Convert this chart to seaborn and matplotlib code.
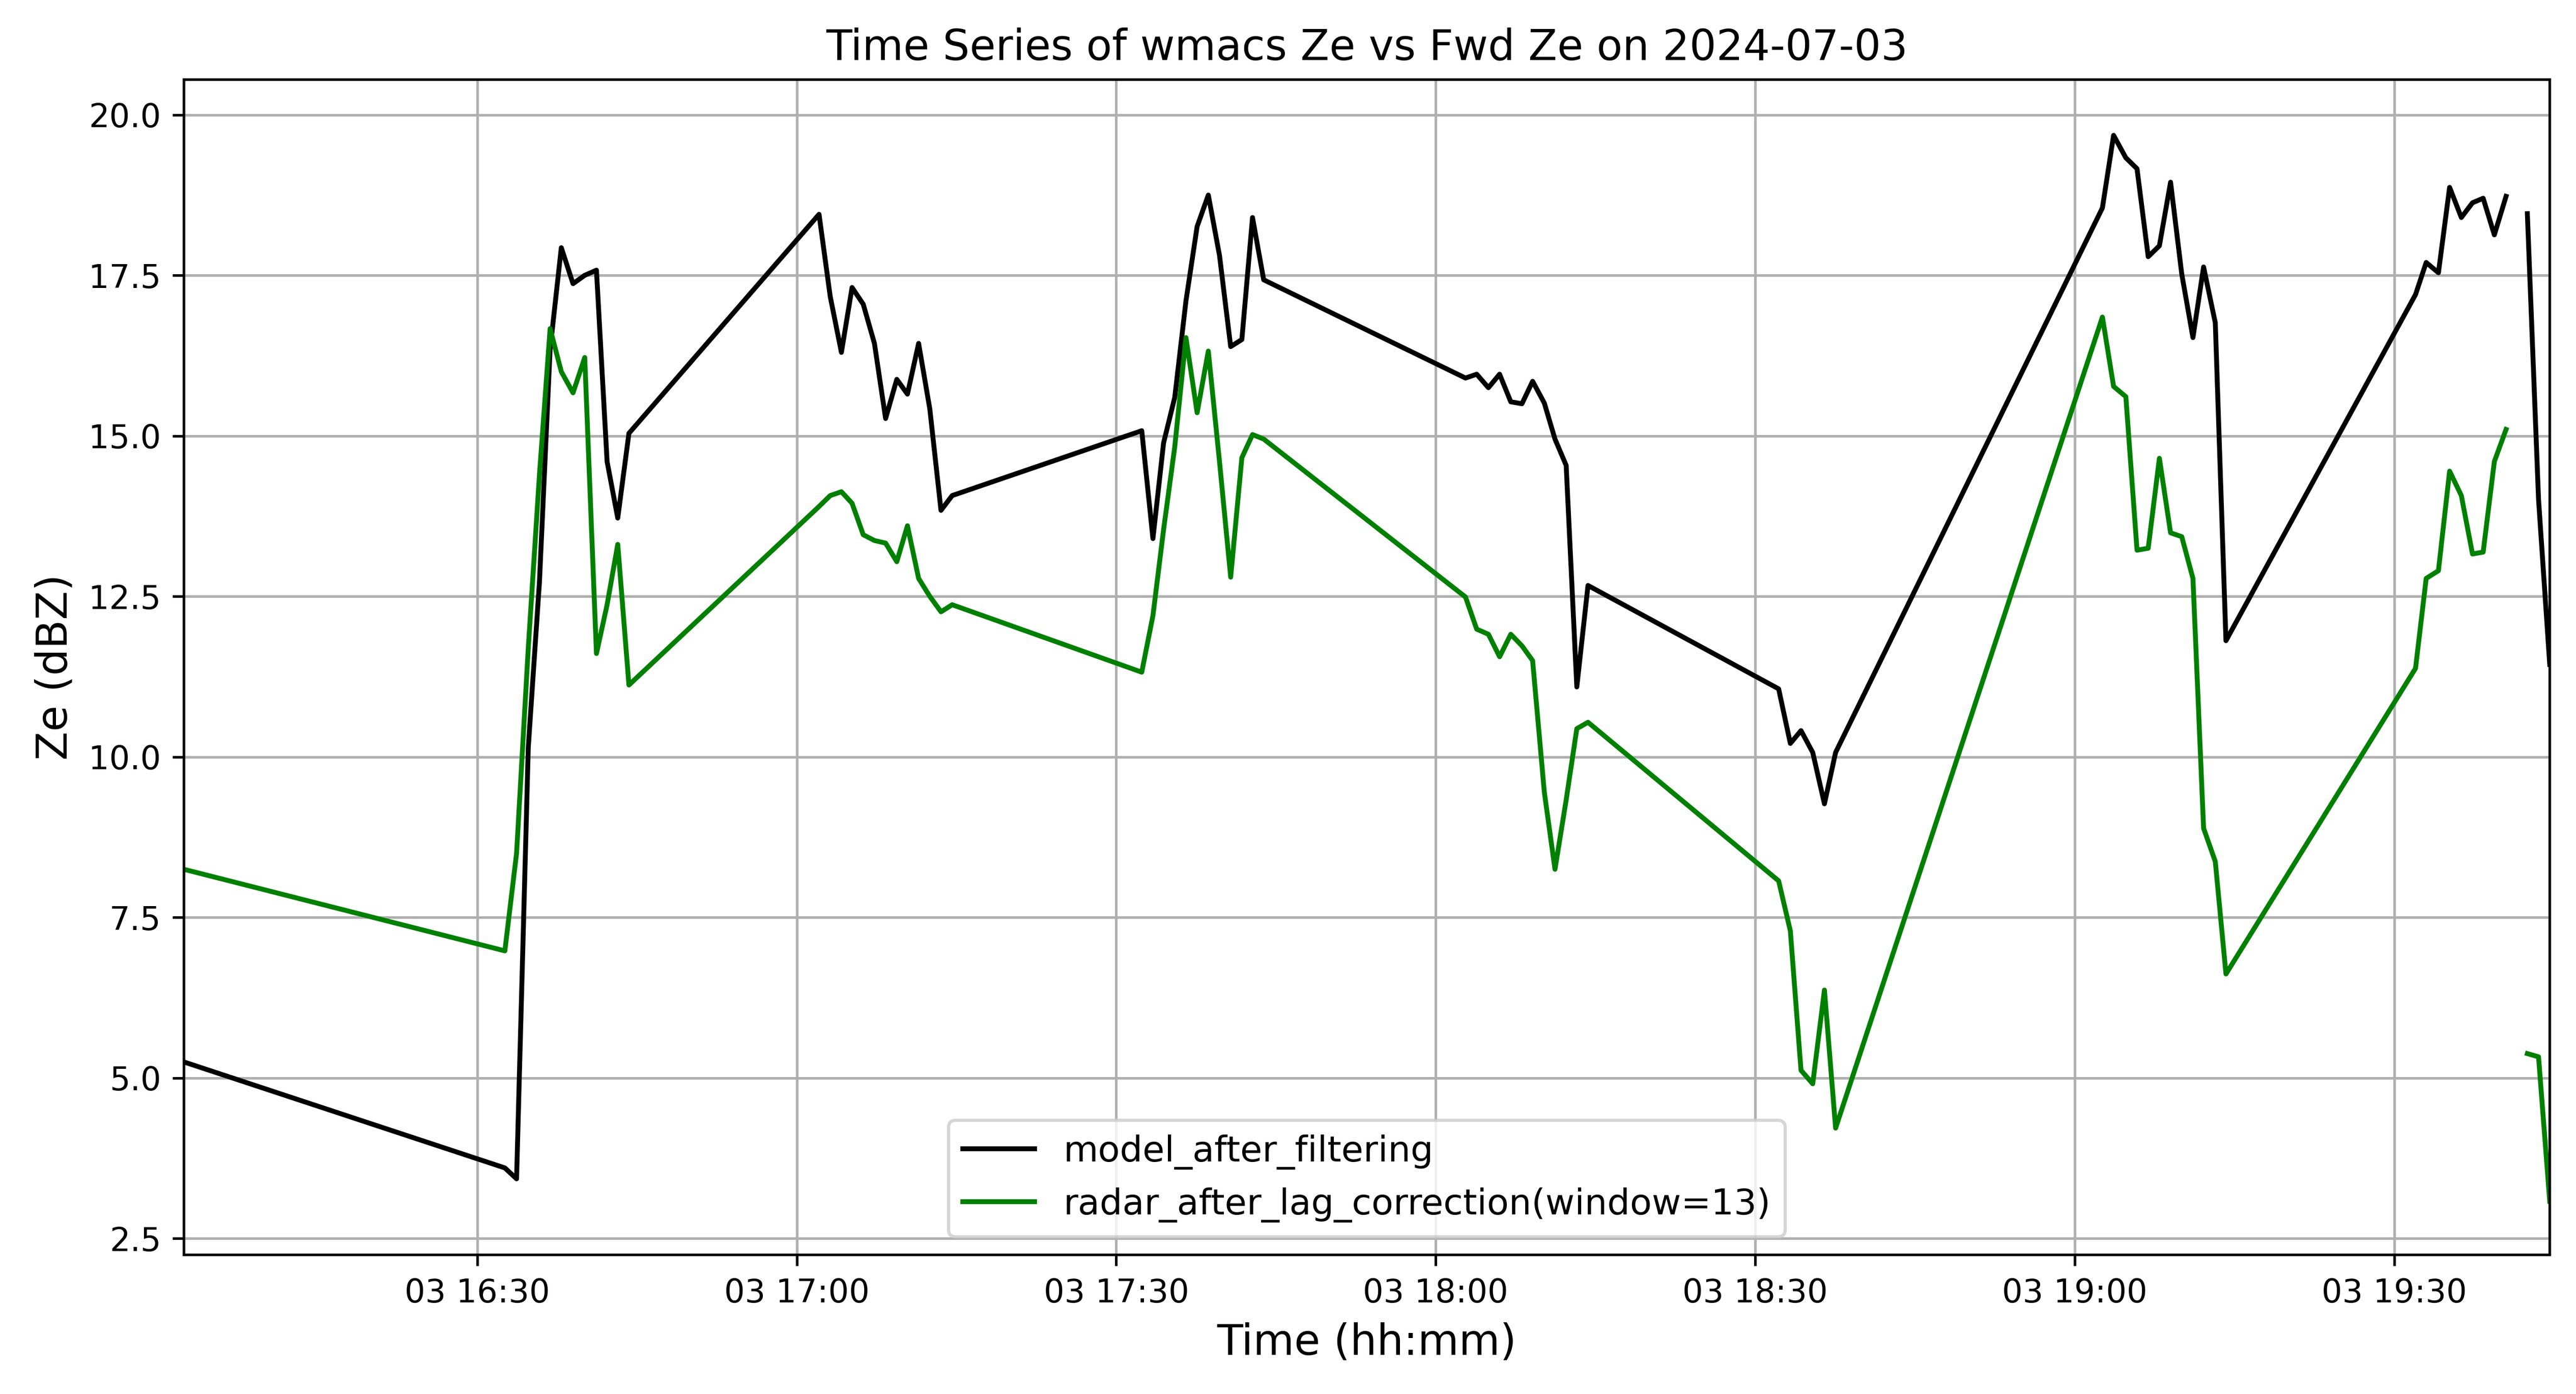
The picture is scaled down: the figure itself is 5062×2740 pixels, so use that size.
import numpy as np
import pandas as pd
import matplotlib
matplotlib.use("Agg")
import matplotlib.pyplot as plt
import matplotlib.dates as mdates
import seaborn as sns

DATE = "2024-07-03"

times = [
    "16:02:28",
    "16:32:36", "16:33:42", "16:34:48", "16:35:51", "16:36:51", "16:37:54",
    "16:39:00", "16:40:06", "16:41:12", "16:42:12", "16:43:12", "16:44:15",
    "17:02:06", "17:03:09", "17:04:12", "17:05:12", "17:06:15", "17:07:18",
    "17:08:21", "17:09:24", "17:10:24", "17:11:27", "17:12:30", "17:13:33", "17:14:36",
    "17:32:24", "17:33:27", "17:34:27", "17:35:30", "17:36:33", "17:37:36",
    "17:38:39", "17:39:42", "17:40:45", "17:41:48", "17:42:48", "17:43:51",
    "18:02:48", "18:03:51", "18:04:57", "18:06:00", "18:07:03", "18:08:06",
    "18:09:06", "18:10:12", "18:11:12", "18:12:15", "18:13:15", "18:14:18",
    "18:32:12", "18:33:18", "18:34:18", "18:35:24", "18:36:30", "18:37:33",
    "19:02:36", "19:03:39", "19:04:48", "19:05:51", "19:06:54", "19:07:57",
    "19:09:00", "19:10:03", "19:11:06", "19:12:06", "19:13:12", "19:14:12",
    "19:32:00", "19:33:00", "19:34:09", "19:35:12", "19:36:18", "19:37:21",
    "19:38:21", "19:39:24", "19:40:30", "19:41:30", "19:42:30", "19:43:33", "19:44:36",
]

model_after_filtering = [
    5.25,
    3.60, 3.43, 10.15, 12.73, 16.35, 17.93,
    17.37, 17.50, 17.58, 14.60, 13.72, 15.04,
    18.45, 17.17, 16.30, 17.31, 17.05, 16.44,
    15.27, 15.88, 15.65, 16.44, 15.42, 13.84, 14.07,
    15.08, 13.40, 14.89, 15.60, 17.10, 18.26,
    18.75, 17.81, 16.39, 16.50, 18.40, 17.43,
    15.90, 15.96, 15.75, 15.96, 15.53, 15.50,
    15.85, 15.51, 14.95, 14.54, 11.09, 12.67,
    11.06, 10.21, 10.41, 10.07, 9.27, 10.07,
    18.55, 19.68, 19.33, 19.16, 17.79, 17.96,
    18.95, 17.52, 16.53, 17.63, 16.76, 11.81,
    17.20, 17.70, 17.54, 18.87, 18.40, 18.63,
    18.70, 18.13, 18.73, np.nan, 18.46, 14.01, 11.44,
]

radar_after_lag_correction = [
    8.25,
    6.98, 8.50, 11.70, 14.40, 16.67, 16.00,
    15.67, 16.22, 11.61, 12.37, 13.31, 11.12,
    13.90, 14.07, 14.13, 13.95, 13.46, 13.37,
    13.33, 13.04, 13.60, 12.78, 12.50, 12.26, 12.37,
    11.32, 12.20, 13.54, 14.83, 16.53, 15.36,
    16.32, 14.60, 12.80, 14.66, 15.02, 14.95,
    12.49, 11.99, 11.91, 11.56, 11.91, 11.73,
    11.50, 9.45, 8.25, 9.33, 10.44, 10.54,
    8.07, 7.29, 5.12, 4.91, 6.37, 4.22,
    16.85, 15.77, 15.61, 13.22, 13.25, 14.65,
    13.49, 13.43, 12.78, 8.89, 8.37, 6.62,
    11.38, 12.78, 12.90, 14.45, 14.07, 13.16,
    13.19, 14.60, 15.10, np.nan, 5.38, 5.33, 3.08,
]

series_names = ["model_after_filtering", "radar_after_lag_correction(window=13)"]
series_colors = ["black", "green"]

t = pd.to_datetime([f"{DATE} {s}" for s in times])

frames = []
for name, vals in zip(series_names, [model_after_filtering, radar_after_lag_correction]):
    v = np.asarray(vals, dtype=float)
    seg = np.cumsum(np.isnan(v))
    df = pd.DataFrame({"time": t, "Ze": v, "series": name, "segment": seg})
    frames.append(df.dropna())
data = pd.concat(frames, ignore_index=True)

DPI = 460
fig, ax = plt.subplots(figsize=(5062 / DPI, 2740 / DPI), dpi=DPI)
sns.lineplot(data=data, x="time", y="Ze", hue="series", units="segment",
             estimator=None, palette=dict(zip(series_names, series_colors)),
             linewidth=1.5, ax=ax, sort=True)

ax.set_xlim(t.min(), t.max())
ax.set_ylim(2.25, 20.55)
ax.set_yticks([2.5, 5.0, 7.5, 10.0, 12.5, 15.0, 17.5, 20.0])
ax.xaxis.set_major_locator(mdates.MinuteLocator(byminute=[0, 30]))
ax.xaxis.set_major_formatter(mdates.DateFormatter("%d %H:%M"))
ax.tick_params(labelsize=10)
ax.grid(True, color="#b0b0b0", linewidth=0.8)

ax.set_title(f"Time Series of wmacs Ze vs Fwd Ze on {DATE}", fontsize=13)
ax.set_xlabel("Time (hh:mm)", fontsize=13)
ax.set_ylabel("Ze (dBZ)", fontsize=13)

handles, labels = ax.get_legend_handles_labels()
ax.legend(handles, labels, loc="lower center", fontsize=11)

fig.subplots_adjust(left=0.0714, right=0.9898, top=0.943, bottom=0.100)
fig.savefig("out.png", dpi=DPI)
